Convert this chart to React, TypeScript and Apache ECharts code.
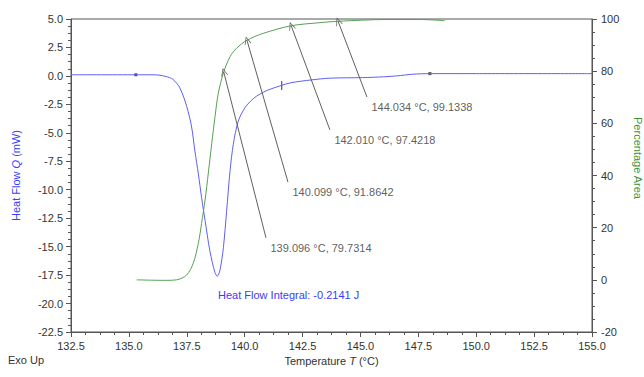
import React, { useEffect, useRef } from "react";
import * as echarts from "echarts";

// Heat flow (mW) vs temperature (°C)
const blueT = [132.5, 135.3, 136.0, 136.3, 136.6, 136.9, 137.2, 137.5, 137.71, 137.85, 138.0, 138.14, 138.29, 138.5, 138.72, 138.82, 138.93, 139.08, 139.22, 139.37, 139.51, 139.72, 140.01, 140.37, 140.66, 141.0, 141.52, 142.0, 142.89, 143.68, 145.1, 146.0, 146.56, 147.27, 148.0, 150.0, 155.0];
const blueV = [0.1, 0.1, 0.1, 0.07, -0.05, -0.3, -1.05, -2.7, -4.5, -6.6, -8.6, -10.7, -12.7, -15.4, -17.3, -17.6, -17.1, -15.1, -11.9, -8.3, -6.0, -4.0, -2.8, -2.0, -1.6, -1.25, -0.88, -0.6, -0.35, -0.2, -0.15, -0.08, 0.0, 0.15, 0.2, 0.2, 0.2];

// Percentage area vs temperature
const greenT = [135.34, 136.5, 137.06, 137.5, 137.78, 138.0, 138.14, 138.29, 138.43, 138.58, 138.72, 138.86, 139.096, 139.37, 139.65, 140.099, 140.8, 142.01, 143.25, 144.034, 146.13, 147.57, 148.65];
const greenP = [0, -0.2, 0, 1.9, 6.4, 14, 21.7, 30.6, 40.9, 52.4, 62.6, 71.5, 79.73, 85.6, 88.8, 91.86, 94.5, 97.42, 98.6, 99.13, 99.8, 99.8, 99.35];

// Annotated points and where their labels sit
const annT = [139.096, 140.099, 142.01, 144.034];
const annP = [79.7314, 91.8642, 97.4218, 99.1338];
const labelT = [140.92, 141.87, 143.68, 145.28];
const labelP = [16.1, 37.5, 57.5, 70.1];

// Integration markers on the heat-flow curve
const markerT = [135.3, 148.0];
const markerV = [0.1, 0.2];
const tickMarkT = [141.6];
const tickMarkV = [-0.85];

const integralText = "Heat Flow Integral: -0.2141 J";

const FONT = "'Liberation Sans', Arial, sans-serif";
const BLUE = "#5e5ef7";
const BLUE_TEXT = "#3b3bff";
const GREEN = "#55a055";
const GREEN_TEXT = "#3c963c";
const AXIS = "#555555";
const TXT = "#333333";

export default function App() {
  const ref = useRef<HTMLDivElement>(null);
  useEffect(() => {
    if (!ref.current) return;
    const chart = echarts.init(ref.current, null, { renderer: "svg" });
    const annTexts = annT.map((t, i) => `${t.toFixed(3)} °C, ${annP[i].toFixed(4)}`);
    const axisCommon = {
      axisLine: { show: true, onZero: false, lineStyle: { color: AXIS, width: 1 } },
      axisTick: { show: true, length: 5, lineStyle: { color: AXIS } },
      minorTick: { show: true, splitNumber: 4, length: 3, lineStyle: { color: AXIS } },
      splitLine: { show: false },
    };
    chart.setOption({
      animation: false,
      grid: { left: 71, right: 52, top: 19, bottom: 45, show: true, borderColor: AXIS, borderWidth: 1 },
      xAxis: {
        type: "value",
        min: 132.5,
        max: 155,
        interval: 2.5,
        ...axisCommon,
        axisLabel: { color: TXT, fontSize: 11, fontFamily: FONT, margin: 8, formatter: (v: number) => v.toFixed(1) },
        name: "{n|Temperature }{i|T}{n| (°C)}",
        nameLocation: "middle",
        nameGap: 22,
        nameTextStyle: {
          color: TXT,
          fontSize: 11,
          fontFamily: FONT,
          rich: {
            n: { color: TXT, fontSize: 11, fontFamily: FONT },
            i: { color: TXT, fontSize: 11, fontFamily: FONT, fontStyle: "italic" },
          },
        },
      },
      yAxis: [
        {
          type: "value",
          min: -22.5,
          max: 5,
          interval: 2.5,
          position: "left",
          ...axisCommon,
          axisLabel: { color: TXT, fontSize: 11, fontFamily: FONT, margin: 8, formatter: (v: number) => v.toFixed(1) },
          name: "{n|Heat Flow }{i|Q}{n| (mW)}",
          nameLocation: "middle",
          nameRotate: 90,
          nameGap: 50,
          nameTextStyle: {
            color: BLUE_TEXT,
            fontSize: 11,
            fontFamily: FONT,
            rich: {
              n: { color: BLUE_TEXT, fontSize: 11, fontFamily: FONT },
              i: { color: BLUE_TEXT, fontSize: 11, fontFamily: FONT, fontStyle: "italic" },
            },
          },
        },
        {
          type: "value",
          min: -20,
          max: 100,
          interval: 20,
          position: "right",
          ...axisCommon,
          axisLabel: { color: TXT, fontSize: 11, fontFamily: FONT, margin: 9 },
        },
      ],
      graphic: [
        {
          type: "text",
          x: 638,
          y: 158,
          rotation: -Math.PI / 2,
          style: { text: "Percentage Area", fill: GREEN_TEXT, font: `11px ${FONT}`, align: "center", verticalAlign: "middle" },
        },
        {
          type: "text",
          x: 8,
          y: 360,
          style: { text: "Exo Up", fill: TXT, font: `11px ${FONT}`, align: "left", verticalAlign: "middle" },
        },
        {
          type: "text",
          x: 218,
          y: 295,
          style: { text: integralText, fill: BLUE_TEXT, font: `11px ${FONT}`, align: "left", verticalAlign: "middle" },
        },
      ],
      series: [
        {
          type: "line",
          name: "Heat Flow",
          yAxisIndex: 0,
          data: blueT.map((t, i) => [t, blueV[i]]),
          showSymbol: false,
          smooth: 0.3,
          lineStyle: { color: BLUE, width: 1 },
          silent: true,
        },
        {
          type: "line",
          name: "Percentage Area",
          yAxisIndex: 1,
          data: greenT.map((t, i) => [t, greenP[i]]),
          showSymbol: false,
          smooth: 0.3,
          lineStyle: { color: GREEN, width: 1 },
          silent: true,
          markLine: {
            silent: true,
            symbol: ["path://M5,0 L10,10 L8.8,10 L5,2.4 L1.2,10 L0,10 Z", "none"],
            symbolSize: [7, 8],
            label: { show: false },
            lineStyle: { color: "#606060", width: 1, type: "solid" },
            emphasis: { disabled: true },
            data: annT.map((t, i) => [
              { coord: [t, annP[i]] },
              { coord: [labelT[i], labelP[i]] },
            ]),
          },
        },
        {
          type: "scatter",
          yAxisIndex: 1,
          data: labelT.map((t, i) => [t, labelP[i]]),
          symbol: "circle",
          symbolSize: 1,
          itemStyle: { color: "rgba(0,0,0,0)" },
          silent: true,
          label: {
            show: true,
            position: [5, 5],
            color: TXT,
            fontSize: 11,
            fontFamily: FONT,
            formatter: (p: any) => annTexts[p.dataIndex],
          },
        },
        {
          type: "scatter",
          yAxisIndex: 0,
          data: markerT.map((t, i) => [t, markerV[i]]),
          symbol: "rect",
          symbolSize: 3,
          itemStyle: { color: "#222" },
          silent: true,
        },
        {
          type: "scatter",
          yAxisIndex: 0,
          data: tickMarkT.map((t, i) => [t, tickMarkV[i]]),
          symbol: "rect",
          symbolSize: [1.2, 9],
          itemStyle: { color: "#333" },
          silent: true,
        },
      ],
    });
    return () => chart.dispose();
  }, []);
  return <div ref={ref} style={{ position: "fixed", left: 0, top: 0, width: 644, height: 377, background: "#fff" }} />;
}
